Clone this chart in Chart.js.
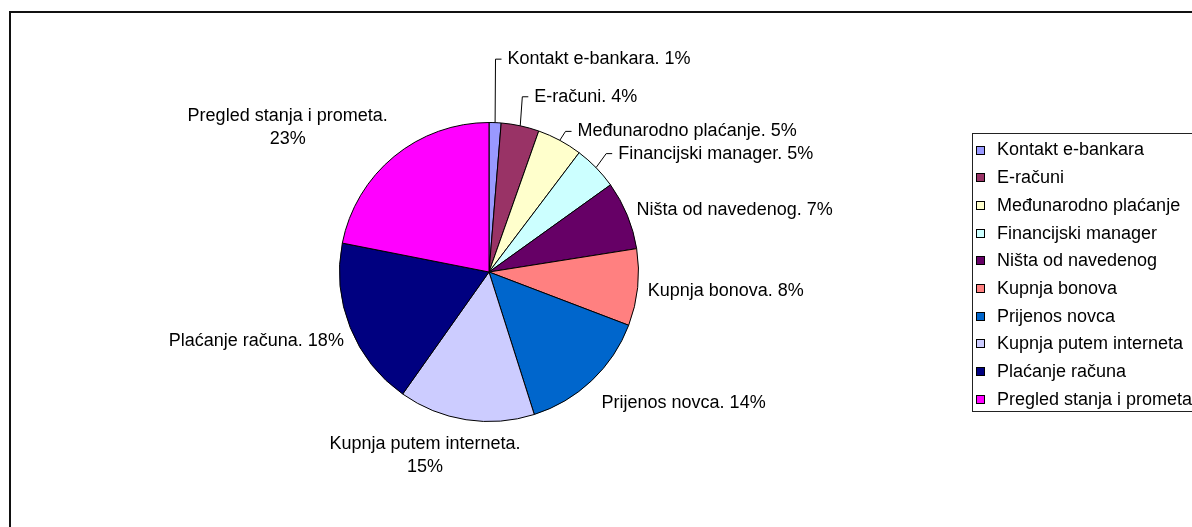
<!DOCTYPE html>
<html>
<head>
<meta charset="utf-8">
<script src="https://cdn.jsdelivr.net/npm/chart.js@4.4.1/dist/chart.umd.min.js"></script>
<style>
html,body{margin:0;padding:0;background:#fff;}
canvas{display:block;}
</style>
</head>
<body>
<canvas id="pieChart" width="1192" height="527"></canvas>
<script>
const categories = ["Kontakt e-bankara","E-računi","Međunarodno plaćanje","Financijski manager","Ništa od navedenog","Kupnja bonova","Prijenos novca","Kupnja putem interneta","Plaćanje računa","Pregled stanja i prometa"];
const shares = [1.3,4.1,4.9,4.8,7.4,8.3,14.3,14.7,18.3,21.9];
const percentLabels = [1,4,5,5,7,8,14,15,18,23];
const sliceColors = ["#9999FF","#993366","#FFFFCC","#CCFFFF","#660066","#FF8080","#0066CC","#CCCCFF","#000080","#FF00FF"];

const FONT = '18px "Liberation Sans", Arial, sans-serif';
// labels that were dragged away from the pie in the original
const labelNudge = [[12,-42],[12,-8],[13,10],[15,1],[0,3],[0,1],[3,7],[56,3],[3,6],[0,-3]];
const leaderLines = [0,1,2,3];
const wrapped = [7,9];

const framePlugin = {
  id: 'frame',
  beforeDraw(chart){
    const ctx = chart.ctx;
    ctx.save();
    ctx.fillStyle = '#fff';
    ctx.fillRect(0,0,chart.width,chart.height);
    ctx.strokeStyle = '#111';
    ctx.lineWidth = 2;
    ctx.strokeRect(10,12,chart.width+20,chart.height+20);
    ctx.restore();
  }
};

const labelPlugin = {
  id: 'pieLabels',
  afterDraw(chart){
    const ctx = chart.ctx;
    const arcs = chart.getDatasetMeta(0).data;
    ctx.save();
    ctx.font = FONT;
    ctx.fillStyle = '#000';
    ctx.strokeStyle = '#000';
    ctx.lineWidth = 1;
    ctx.textBaseline = 'middle';
    arcs.forEach((arc,i) => {
      const p = arc.getProps(['x','y','startAngle','endAngle','outerRadius'], true);
      const mid = (p.startAngle + p.endAngle) / 2;
      const cos = Math.cos(mid), sin = Math.sin(mid);
      const D = p.outerRadius + 10;
      const px = p.x + cos*D, py = p.y + sin*D;
      const lines = wrapped.includes(i)
        ? [categories[i] + '.', percentLabels[i] + '%']
        : [categories[i] + '. ' + percentLabels[i] + '%'];
      const w = Math.max(...lines.map(t => ctx.measureText(t).width));
      const lh = 23;
      const h = lines.length * lh;
      let left = cos >= 0 ? px : px - w;
      let cy = py + sin*h/2;
      left += labelNudge[i][0];
      cy += labelNudge[i][1];

      ctx.textAlign = 'center';
      lines.forEach((t,k) => {
        ctx.fillText(t, left + w/2, cy - h/2 + lh/2 + k*lh);
      });

      if (leaderLines.includes(i)) {
        const sx = p.x + cos*p.outerRadius, sy = p.y + sin*p.outerRadius;
        ctx.beginPath();
        ctx.moveTo(sx, sy);
        ctx.lineTo(left - 12, cy);
        ctx.lineTo(left - 6, cy);
        ctx.stroke();
      }
    });
    ctx.restore();
  }
};

const legendPlugin = {
  id: 'boxLegend',
  afterDraw(chart){
    const ctx = chart.ctx;
    ctx.save();
    ctx.strokeStyle = '#222';
    ctx.lineWidth = 1;
    ctx.strokeRect(972.5,133.5,260,278);
    ctx.font = FONT;
    ctx.textBaseline = 'middle';
    ctx.textAlign = 'left';
    categories.forEach((name,i) => {
      const y = 150.5 + i*27.7;
      ctx.fillStyle = sliceColors[i];
      ctx.fillRect(976.5, Math.round(y) - 4.5, 8, 8);
      ctx.strokeStyle = '#000';
      ctx.strokeRect(976.5, Math.round(y) - 4.5, 8, 8);
      ctx.fillStyle = '#000';
      ctx.fillText(name, 997, y);
    });
    ctx.restore();
  }
};

new Chart(document.getElementById('pieChart'), {
  type: 'pie',
  data: {
    labels: categories,
    datasets: [{
      data: shares,
      backgroundColor: sliceColors,
      borderColor: '#000',
      borderWidth: 1
    }]
  },
  options: {
    responsive: false,
    animation: false,
    layout: { padding: { left: 339, top: 122, right: 553, bottom: 105 } },
    plugins: {
      legend: { display: false },
      tooltip: { enabled: false }
    }
  },
  plugins: [framePlugin, labelPlugin, legendPlugin]
});
</script>
</body>
</html>
